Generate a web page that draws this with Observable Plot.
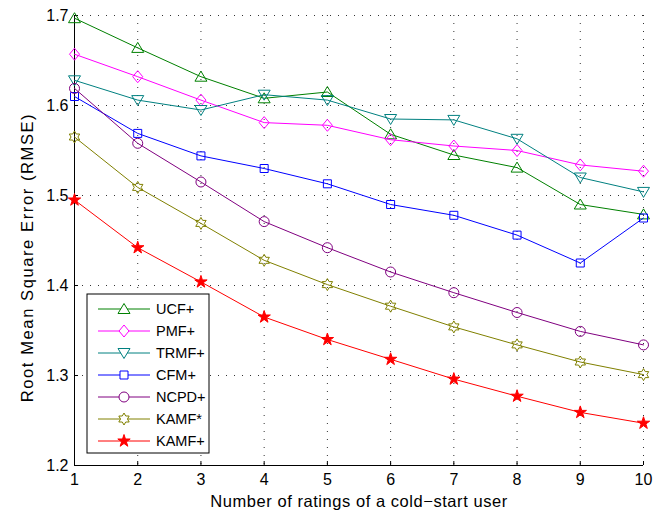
<!DOCTYPE html>
<html>
<head>
<meta charset="utf-8">
<script src="https://cdn.jsdelivr.net/npm/d3@7"></script>
<script src="https://cdn.jsdelivr.net/npm/@observablehq/plot@0.6"></script>
<style>
  html, body { margin: 0; padding: 0; background: white; }
</style>
</head>
<body>
<div id="chart"></div>
<script>
const xValues = [1, 2, 3, 4, 5, 6, 7, 8, 9, 10];
const seriesNames = ["UCF+", "PMF+", "TRMF+", "CFM+", "NCPD+", "KAMF*", "KAMF+"];
const ucf  = [1.697, 1.664, 1.632, 1.608, 1.615, 1.568, 1.545, 1.531, 1.490, 1.479];
const pmf  = [1.657, 1.632, 1.606, 1.581, 1.578, 1.562, 1.555, 1.550, 1.534, 1.527];
const trmf = [1.628, 1.606, 1.595, 1.612, 1.606, 1.585, 1.584, 1.563, 1.520, 1.504];
const cfm  = [1.610, 1.569, 1.544, 1.530, 1.513, 1.490, 1.478, 1.456, 1.425, 1.475];
const ncpd = [1.619, 1.558, 1.515, 1.471, 1.442, 1.415, 1.392, 1.370, 1.349, 1.334];
const kamfStar = [1.565, 1.509, 1.469, 1.428, 1.401, 1.377, 1.354, 1.334, 1.315, 1.301];
const kamfPlus = [1.495, 1.442, 1.404, 1.365, 1.340, 1.318, 1.296, 1.277, 1.259, 1.247];
const xTicks = [1, 2, 3, 4, 5, 6, 7, 8, 9, 10];
const yTicks = [1.2, 1.3, 1.4, 1.5, 1.6, 1.7];
const colors = ["#008000", "#ff00ff", "#008080", "#0000ff", "#800080", "#808000", "#ff0000"];
const xLabel = "Number of ratings of a cold\u2212start user";
const yLabel = "Root Mean Square Error (RMSE)";

const allValues = [ucf, pmf, trmf, cfm, ncpd, kamfStar, kamfPlus];

// custom marker shapes (size = area passed by Plot; r = sqrt(size/pi))
function poly(ctx, pts) {
  ctx.moveTo(pts[0][0], pts[0][1]);
  for (let i = 1; i < pts.length; i++) ctx.lineTo(pts[i][0], pts[i][1]);
  ctx.closePath();
}
const rad = size => Math.sqrt(size / Math.PI);
const symTriUp = { draw(ctx, size) { const r = rad(size); poly(ctx, [[0, -1.1*r], [1.2*r, 0.9*r], [-1.2*r, 0.9*r]]); } };
const symTriDown = { draw(ctx, size) { const r = rad(size); poly(ctx, [[0, 1.1*r], [1.2*r, -0.9*r], [-1.2*r, -0.9*r]]); } };
const symDiamond = { draw(ctx, size) { const r = rad(size); poly(ctx, [[0, -1.2*r], [r, 0], [0, 1.2*r], [-r, 0]]); } };
const symSquare = { draw(ctx, size) { const r = rad(size) * 0.8; poly(ctx, [[-r, -r], [r, -r], [r, r], [-r, r]]); } };
const symCircle = { draw(ctx, size) { const r = rad(size); ctx.moveTo(r, 0); ctx.arc(0, 0, r, 0, 2 * Math.PI); } };
const symHexagram = { draw(ctx, size) {
  const R = rad(size) * 1.2, ri = R / Math.sqrt(3); const pts = [];
  for (let k = 0; k < 12; k++) { const a = -Math.PI / 2 + k * Math.PI / 6; const rr = k % 2 ? ri : R; pts.push([rr * Math.cos(a), rr * Math.sin(a)]); }
  poly(ctx, pts);
} };
const symPentagram = { draw(ctx, size) {
  const R = rad(size) * 1.3, ri = R * 0.382; const pts = [];
  for (let k = 0; k < 10; k++) { const a = -Math.PI / 2 + k * Math.PI / 5; const rr = k % 2 ? ri : R; pts.push([rr * Math.cos(a), rr * Math.sin(a)]); }
  poly(ctx, pts);
} };
const symbols = [symTriUp, symDiamond, symTriDown, symSquare, symCircle, symHexagram, symPentagram];
const filled = [false, false, false, false, false, false, true];

const rows = [];
seriesNames.forEach((s, i) => xValues.forEach((x, j) => rows.push({ series: s, idx: i, x, y: allValues[i][j] })));

const gridStyle = { stroke: "#333", strokeWidth: 1, strokeDasharray: "1,7" };
const font = "'Liberation Sans', Arial, Helvetica, sans-serif";

const marks = [
  Plot.ruleX(xTicks.filter(d => d !== 1), { x: d => d, ...gridStyle }),
  Plot.ruleY(yTicks.filter(d => d !== 1.2), { y: d => d, ...gridStyle }),
  Plot.ruleX([1], { x: d => d, stroke: "black" }),
  Plot.ruleY([1.2], { y: d => d, stroke: "black" }),
  Plot.axisX({ ticks: xTicks, tickSize: -4, tickPadding: 12, tickFormat: d => String(d), fontSize: 16,
    label: xLabel, labelAnchor: "center", labelArrow: "none", labelOffset: 41 }),
  Plot.axisY({ ticks: yTicks, tickSize: -4, tickPadding: 10, tickFormat: d => d.toFixed(1), fontSize: 16,
    label: yLabel, labelAnchor: "center", labelArrow: "none", labelOffset: 53 })
];
seriesNames.forEach((s, i) => {
  const data = rows.filter(r => r.idx === i);
  marks.push(Plot.line(data, { x: "x", y: "y", stroke: colors[i], strokeWidth: 1 }));
  marks.push(Plot.dot(data, { x: "x", y: "y", r: 5, symbol: symbols[i],
    stroke: colors[i], strokeWidth: 1, fill: filled[i] ? colors[i] : "none" }));
});

const chart = Plot.plot({
  width: 670, height: 512,
  marginLeft: 74, marginRight: 27, marginTop: 15, marginBottom: 47,
  style: { fontFamily: font, fontSize: "15px", background: "white", color: "black" },
  x: { domain: [1, 10] },
  y: { domain: [1.2, 1.7] },
  marks
});
document.getElementById("chart").appendChild(chart);

const svg = d3.select(chart);
// axis label typography (wide Matlab-style lettering)
svg.selectAll('g[aria-label="x-axis label"] text')
  .attr("font-size", 16.5).attr("letter-spacing", 0.55);
svg.selectAll('g[aria-label="y-axis label"] text')
  .attr("font-size", 16.5).attr("letter-spacing", 1.6);
svg.selectAll('g[aria-label="y-axis label"]').style("translate", "0px 17px");

// legend box
const lg = svg.append("g").attr("font-family", font).attr("font-size", 14.5).attr("text-anchor", "start");
lg.append("rect").attr("x", 87).attr("y", 294).attr("width", 122).attr("height", 159)
  .attr("fill", "white").attr("stroke", "black").attr("stroke-width", 1);
seriesNames.forEach((s, i) => {
  const y = 309 + 22 * i;
  lg.append("line").attr("x1", 98).attr("x2", 150).attr("y1", y).attr("y2", y)
    .attr("stroke", colors[i]).attr("stroke-width", 1);
  lg.append("path").attr("transform", `translate(124,${y})`)
    .attr("d", d3.symbol(symbols[i], 25 * Math.PI)())
    .attr("stroke", colors[i]).attr("fill", filled[i] ? colors[i] : "white");
  lg.append("text").attr("x", 156).attr("y", y).attr("dy", "0.35em").attr("fill", "black").text(s);
});
</script>
</body>
</html>
